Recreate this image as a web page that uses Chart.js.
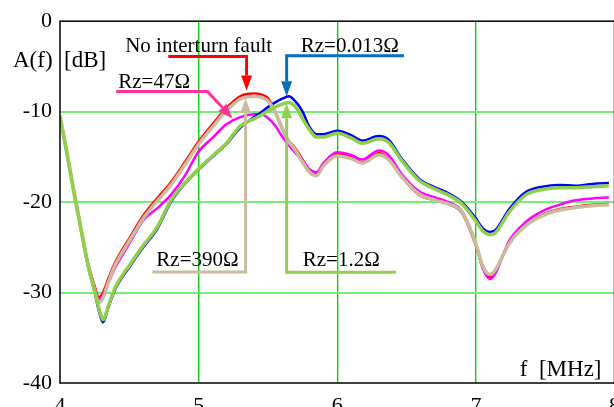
<!DOCTYPE html>
<html>
<head>
<meta charset="utf-8">
<script src="https://cdn.jsdelivr.net/npm/chart.js@4/dist/chart.umd.min.js"></script>
<style>
  html, body { margin: 0; padding: 0; background: #fff; overflow: hidden; }
  canvas { display: block; }
</style>
</head>
<body>
<canvas id="chart" width="630" height="430"></canvas>
<script>
// frequency points [MHz]
const freq = [4.0, 4.05, 4.1, 4.15, 4.2, 4.25, 4.28, 4.31, 4.35, 4.4, 4.5, 4.6, 4.7, 4.8, 4.9,
  5.0, 5.1, 5.2, 5.3, 5.4, 5.45, 5.5, 5.55, 5.6, 5.65, 5.7, 5.75, 5.8, 5.85, 5.9,
  6.0, 6.1, 6.18, 6.3, 6.37, 6.47, 6.59, 6.71, 6.8, 6.9,
  7.0, 7.05, 7.1, 7.14, 7.24, 7.36, 7.48, 7.6, 7.72, 7.84, 7.96];

// A(f) [dB] per case
const noFault = [-10.5, -14.6, -18.8, -22.8, -26.6, -29.3, -30.5, -30.0, -28.4, -26.6, -24.0, -21.5, -19.6, -17.8, -15.6,
  -13.3, -11.4, -9.6, -8.3, -8.0, -8.1, -8.5, -9.9, -11.7, -13.2, -14.1, -15.3, -16.5, -16.9, -15.8,
  -14.7, -15.0, -15.6, -14.6, -15.2, -17.3, -19.2, -19.8, -20.2, -21.2,
  -24.8, -27.3, -28.3, -27.6, -24.5, -22.5, -21.4, -20.8, -20.5, -20.3, -20.2];
const rz0013 = [-10.5, -14.6, -18.9, -22.9, -26.9, -30.0, -32.0, -33.3, -31.6, -29.6, -27.2, -25.0, -23.0, -20.0, -18.0,
  -16.4, -15.0, -13.6, -11.8, -10.6, -10.1, -9.5, -9.0, -8.6, -8.3, -8.9, -10.0, -11.7, -12.5, -12.5,
  -12.1, -12.6, -13.2, -12.7, -13.1, -15.3, -17.4, -18.4, -19.0, -20.0,
  -21.8, -22.9, -23.3, -23.1, -20.8, -18.9, -18.3, -18.1, -18.2, -18.0, -17.9];
const rz12 = [-10.5, -14.6, -18.9, -22.9, -26.8, -29.8, -31.7, -33.0, -31.4, -29.4, -27.0, -24.8, -22.8, -19.8, -17.9,
  -16.3, -14.9, -13.5, -11.6, -10.8, -10.4, -9.9, -9.5, -9.2, -9.0, -9.5, -10.8, -12.0, -12.8, -12.8,
  -12.4, -12.9, -13.5, -13.0, -13.4, -15.5, -17.6, -18.6, -19.2, -20.2,
  -22.1, -23.2, -23.6, -23.4, -21.1, -19.2, -18.6, -18.4, -18.4, -18.3, -18.2];
const rz47 = [-10.5, -14.6, -18.8, -22.8, -26.7, -29.5, -30.7, -30.3, -28.9, -27.2, -24.6, -22.0, -20.7, -19.2, -17.1,
  -14.4, -12.9, -11.4, -10.6, -10.3, -10.3, -10.7, -11.5, -12.7, -13.7, -14.6, -15.4, -16.4, -16.7, -15.7,
  -14.5, -14.8, -15.3, -14.3, -14.8, -17.0, -18.8, -19.5, -20.0, -21.0,
  -24.6, -27.3, -28.5, -27.9, -24.3, -22.2, -21.0, -20.3, -19.8, -19.6, -19.5];
const rz390 = [-10.5, -14.6, -18.8, -22.8, -26.8, -29.8, -31.1, -30.6, -28.8, -26.9, -24.3, -21.8, -19.9, -18.1, -15.9,
  -13.6, -11.7, -9.9, -8.6, -8.3, -8.4, -8.8, -10.0, -11.8, -13.3, -14.3, -15.6, -16.7, -17.1, -16.0,
  -14.9, -15.2, -15.7, -14.8, -15.3, -17.3, -19.1, -19.8, -20.2, -21.1,
  -24.6, -27.1, -28.0, -27.5, -24.6, -22.6, -21.5, -20.9, -20.6, -20.4, -20.3];

const xTicks = [4, 5, 6, 7, 8];
const yTicks = [0, -10, -20, -30, -40];

const serif = '"Liberation Serif", "Times New Roman", serif';

function pts(vals) {
  return freq.map((f, i) => ({ x: f, y: vals[i] }));
}

// callouts, positions in data units (f, dB)
const callouts = [
  { text: 'No interturn fault', color: '#ff0000', at: [4.47, -3.39],
    path: [[4.781, -3.9], [5.346, -3.9], [5.346, -7.65]] },
  { text: 'Rz=0.013\u03A9', color: '#0070c0', at: [5.737, -3.39],
    path: [[6.482, -3.83], [5.635, -3.83], [5.635, -8.31]] },
  { text: 'Rz=47\u03A9', color: '#ff3399', at: [4.42, -7.43],
    path: [[4.405, -7.76], [5.064, -7.76], [5.245, -10.77]] },
  { text: 'Rz=390\u03A9', color: '#c9bd9e', at: [4.695, -27.1],
    path: [[4.666, -27.73], [5.339, -27.73], [5.339, -8.52]] },
  { text: 'Rz=1.2\u03A9', color: '#92d050', at: [5.751, -27.1],
    path: [[6.424, -27.76], [5.635, -27.76], [5.635, -9.07]] }
];

const decor = {
  id: 'decor',
  afterDatasetsDraw(chart) {
    const ctx = chart.ctx;
    const a = chart.chartArea;
    const sx = chart.scales.x, sy = chart.scales.y;
    ctx.save();
    // frame
    ctx.strokeStyle = '#000';
    ctx.lineWidth = 1.5;
    ctx.strokeRect(a.left, a.top, a.right - a.left, a.bottom - a.top);

    // axis titles
    ctx.fillStyle = '#000';
    ctx.font = '23px ' + serif;
    ctx.textBaseline = 'alphabetic';
    ctx.textAlign = 'left';
    ctx.fillText('A(f)  [dB]', 13, a.top + 46);
    ctx.textAlign = 'right';
    ctx.fillText('f  [MHz]', a.right - 13, a.bottom - 7);

    // callouts
    ctx.font = '21px ' + serif;
    ctx.textAlign = 'left';
    callouts.forEach(c => {
      ctx.fillStyle = '#000';
      ctx.fillText(c.text, sx.getPixelForValue(c.at[0]), sy.getPixelForValue(c.at[1]));
      const p = c.path.map(q => [sx.getPixelForValue(q[0]), sy.getPixelForValue(q[1])]);
      const tip = p[p.length - 1], prev = p[p.length - 2];
      const ang = Math.atan2(tip[1] - prev[1], tip[0] - prev[0]);
      const headLen = 15, headW = 5.5;
      const bx = tip[0] - headLen * Math.cos(ang), by = tip[1] - headLen * Math.sin(ang);
      ctx.strokeStyle = c.color;
      ctx.lineWidth = 3;
      ctx.lineJoin = 'miter';
      ctx.beginPath();
      ctx.moveTo(p[0][0], p[0][1]);
      for (let i = 1; i < p.length - 1; i++) ctx.lineTo(p[i][0], p[i][1]);
      ctx.lineTo(bx, by);
      ctx.stroke();
      ctx.fillStyle = c.color;
      ctx.beginPath();
      ctx.moveTo(tip[0], tip[1]);
      ctx.lineTo(bx + headW * Math.sin(ang), by - headW * Math.cos(ang));
      ctx.lineTo(bx - headW * Math.sin(ang), by + headW * Math.cos(ang));
      ctx.closePath();
      ctx.fill();
    });
    ctx.restore();
  }
};

function line(label, vals, color, width) {
  return {
    label: label,
    data: pts(vals),
    borderColor: color,
    borderWidth: width,
    pointRadius: 0,
    fill: false,
    cubicInterpolationMode: 'monotone'
  };
}

new Chart(document.getElementById('chart'), {
  type: 'line',
  data: {
    datasets: [
      line('Rz=1.2\u03A9', rz12, '#8fd04a', 3.5),
      line('Rz=390\u03A9', rz390, '#c9bd9e', 3.5),
      line('Rz=0.013\u03A9', rz0013, '#0000ff', 2.5),
      line('Rz=47\u03A9', rz47, '#ff00ff', 2.5),
      line('No interturn fault', noFault, '#ff0000', 2.5)
    ]
  },
  options: {
    responsive: false,
    animation: false,
    devicePixelRatio: 1,
    layout: { padding: { top: 17, right: 0, bottom: 0, left: 0 } },
    plugins: { legend: { display: false }, tooltip: { enabled: false } },
    scales: {
      x: {
        type: 'linear',
        min: 4, max: 8,
        afterBuildTicks: s => { s.ticks = xTicks.map(v => ({ value: v })); },
        afterFit: s => { s.height = 47; },
        border: { display: false },
        grid: {
          drawTicks: false,
          lineWidth: 1.4,
          color: c => (c.tick && (c.tick.value === 4 || c.tick.value === 8)) ? 'rgba(0,0,0,0)' : '#00dc00'
        },
        ticks: { color: '#000', padding: 10, font: { family: serif, size: 22 }, maxRotation: 0 }
      },
      y: {
        min: -40, max: 0,
        afterBuildTicks: s => { s.ticks = yTicks.map(v => ({ value: v })); },
        afterFit: s => { s.width = 60; },
        border: { display: false },
        grid: {
          drawTicks: false,
          lineWidth: 2,
          color: c => (c.tick && (c.tick.value === 0 || c.tick.value === -40)) ? 'rgba(0,0,0,0)' : '#74ee74'
        },
        ticks: { color: '#000', padding: 8, font: { family: serif, size: 22 } }
      }
    }
  },
  plugins: [decor]
});
</script>
</body>
</html>
